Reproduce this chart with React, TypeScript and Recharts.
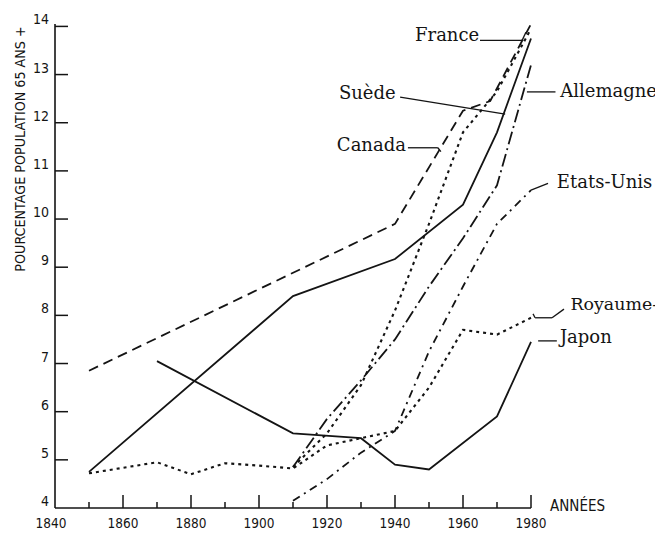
import { LineChart, Line, XAxis, YAxis, ReferenceLine, ReferenceDot } from 'recharts';

const xTicks = [1840, 1850, 1860, 1870, 1880, 1890, 1900, 1910, 1920, 1930, 1940, 1950, 1960, 1970, 1980];
const yTicks = [4, 5, 6, 7, 8, 9, 10, 11, 12, 13, 14];

// valeurs (pourcentage des 65 ans et +)
const suedeYears = [1850, 1910, 1940, 1960, 1970, 1980];
const suedeValues = [4.75, 8.4, 9.17, 10.3, 11.8, 13.75];

const japonYears = [1870, 1910, 1930, 1940, 1950, 1970, 1980];
const japonValues = [7.05, 5.55, 5.45, 4.9, 4.8, 5.9, 7.45];

const canadaYears = [1850, 1940, 1960, 1968, 1980];
const canadaValues = [6.85, 9.9, 12.25, 12.45, 14.05];

const franceYears = [1910, 1920, 1930, 1940, 1950, 1960, 1970, 1980];
const franceValues = [4.85, 5.55, 6.55, 8.1, 9.9, 11.8, 12.65, 13.95];

const ruYears = [1850, 1870, 1880, 1890, 1900, 1910, 1920, 1930, 1940, 1950, 1960, 1970, 1980];
const ruValues = [4.72, 4.95, 4.7, 4.93, 4.88, 4.82, 5.3, 5.45, 5.6, 6.5, 7.7, 7.6, 7.95];

const allemagneYears = [1910, 1920, 1930, 1940, 1950, 1960, 1970, 1980];
const allemagneValues = [4.85, 5.85, 6.65, 7.5, 8.6, 9.6, 10.7, 13.2];

const usaYears = [1910, 1920, 1930, 1940, 1950, 1960, 1970, 1980];
const usaValues = [4.15, 4.6, 5.15, 5.6, 7.25, 8.6, 9.9, 10.6];

const toPoints = (years: number[], values: number[]) => years.map((year, i) => ({ year, v: values[i] }));

const series = [
  { name: 'Suède', data: toPoints(suedeYears, suedeValues), dash: undefined },
  { name: 'Japon', data: toPoints(japonYears, japonValues), dash: undefined },
  { name: 'Canada', data: toPoints(canadaYears, canadaValues), dash: '10 6' },
  { name: 'France', data: toPoints(franceYears, franceValues), dash: '3 4' },
  { name: 'Royaume-Uni', data: toPoints(ruYears, ruValues), dash: '3 4' },
  { name: 'Allemagne', data: toPoints(allemagneYears, allemagneValues), dash: '13 4 2 4' },
  { name: 'Etats-Unis', data: toPoints(usaYears, usaValues), dash: '8 5 2 5' },
];

// étiquettes et traits de rappel (coordonnées en années / %)
// "Royaume-" : le mot est coupé au bord droit de l'original
const callouts = [
  { text: 'France', at: [1945.9, 13.7], leader: [[1965, 13.71], [1977.4, 13.71], [1978.5, 13.88]] },
  { text: 'Suède', at: [1923.5, 12.5], leader: [[1941.5, 12.53], [1972.4, 12.18]] },
  { text: 'Canada', at: [1922.9, 11.41], leader: [[1943.8, 11.48], [1952.6, 11.48], [1953.5, 11.4]] },
  { text: 'Allemagne', at: [1988.6, 12.54], leader: [[1978.8, 12.64], [1987.2, 12.64]] },
  { text: 'Etats-Unis', at: [1987.6, 10.64], leader: [[1980, 10.6], [1985, 10.74]] },
  { text: 'Royaume-', at: [1991.6, 8.12], leader: [[1980.6, 8.03], [1981.2, 7.95], [1986.2, 7.95], [1989.7, 8.13]] },
  { text: 'Japon', at: [1988.5, 7.43], leader: [[1982.1, 7.47], [1987.6, 7.47]] },
];

const ink = '#141414';
const axisFont = '"Liberation Sans Narrow", "DejaVu Sans Condensed", "Arial Narrow", sans-serif';
const labelFont = '"DejaVu Serif", serif';

const XTick = (props: any) => {
  const { x, y, payload } = props;
  const value = payload.value as number;
  const major = value % 20 === 0;
  return (
    <g>
      {value !== 1840 && <line x1={x} x2={x} y1={y} y2={y - (major ? 13 : 6)} stroke={ink} strokeWidth={1.5} />}
      {major && (
        <text x={value === 1840 ? x - 4 : x} y={y + 20} textAnchor="middle" fontFamily={axisFont} fontSize={13.5} fill={ink}>
          {value}
        </text>
      )}
    </g>
  );
};

const YTick = (props: any) => {
  const { x, y, payload } = props;
  const value = payload.value as number;
  return (
    <g>
      {value !== 4 && <line x1={x} x2={x + 13} y1={y} y2={y} stroke={ink} strokeWidth={1.5} />}
      <text x={x - 6} y={y - 2} textAnchor="end" fontFamily={axisFont} fontSize={14} fill={ink}>
        {value}
      </text>
    </g>
  );
};

export default function App() {
  return (
    <div style={{ width: 655, height: 525, overflow: 'hidden', background: '#fff' }}>
      <LineChart width={655} height={525} margin={{ top: 16, right: 132, bottom: 0, left: 0 }}>
        <XAxis
          dataKey="year"
          type="number"
          domain={[1840, 1980]}
          ticks={xTicks}
          interval={0}
          tickSize={0}
          tickMargin={0}
          tickLine={false}
          height={25}
          stroke={ink}
          strokeWidth={1.6}
          tick={<XTick />}
          allowDuplicatedCategory={false}
          label={(p: any) => (
            <text
              x={p.viewBox.x + p.viewBox.width + 19}
              y={p.viewBox.y + 3}
              fontFamily={axisFont}
              fontSize={15}
              fill={ink}
            >
              ANNÉES
            </text>
          )}
        />
        <YAxis
          type="number"
          domain={[4, 14]}
          ticks={yTicks}
          interval={0}
          tickSize={0}
          tickMargin={0}
          tickLine={false}
          width={47}
          stroke={ink}
          strokeWidth={1.6}
          tick={<YTick />}
          label={(p: any) => (
            <text
              transform={`translate(${p.viewBox.x + 12}, ${p.viewBox.y + 125}) rotate(-90)`}
              textAnchor="middle"
              dominantBaseline="central"
              fontFamily={axisFont}
              fontSize={14.2}
              fill={ink}
            >
              POURCENTAGE POPULATION 65 ANS +
            </text>
          )}
        />
        {series.map((s) => (
          <Line
            key={s.name}
            data={s.data}
            dataKey="v"
            name={s.name}
            type="linear"
            stroke={ink}
            strokeWidth={s.dash === '3 4' ? 2.1 : 1.8}
            strokeDasharray={s.dash}
            dot={false}
            activeDot={false}
            isAnimationActive={false}
          />
        ))}
        {callouts.flatMap((c) =>
          c.leader.slice(1).map((pt, i) => (
            <ReferenceLine
              key={`${c.text}-${i}`}
              segment={[
                { x: c.leader[i][0], y: c.leader[i][1] },
                { x: pt[0], y: pt[1] },
              ]}
              stroke={ink}
              strokeWidth={1.3}
              ifOverflow="visible"
            />
          ))
        )}
        {callouts.map((c) => (
          <ReferenceDot
            key={c.text}
            x={c.at[0]}
            y={c.at[1]}
            r={0}
            ifOverflow="visible"
            shape={(p: any) => (
              <text x={p.cx} y={p.cy} fontFamily={labelFont} fontSize={c.text === 'Royaume-' ? 17.4 : 18} fill={ink}>
                {c.text}
              </text>
            )}
          />
        ))}
      </LineChart>
    </div>
  );
}
